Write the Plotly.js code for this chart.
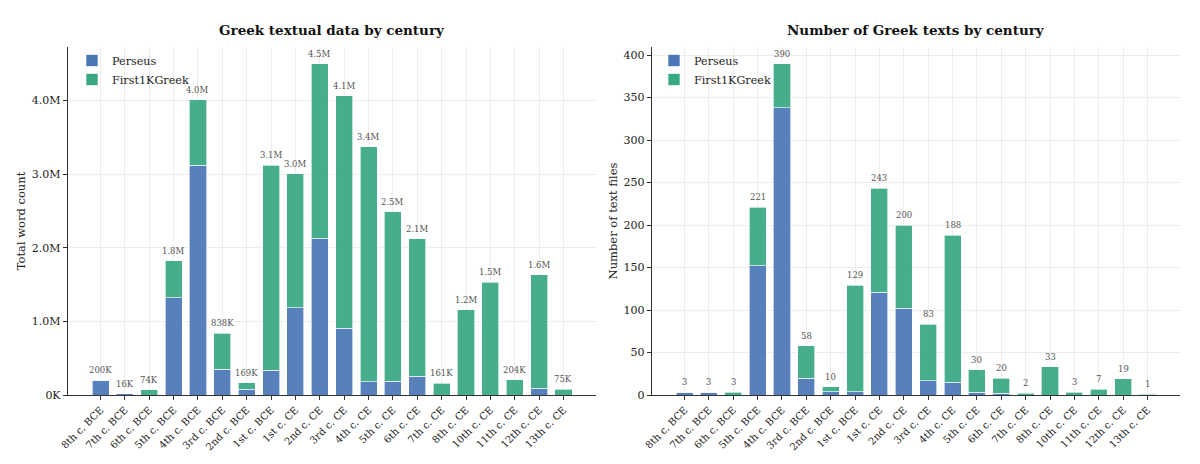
<!DOCTYPE html>
<html>
<head>
<meta charset="utf-8">
<script src="https://cdn.plot.ly/plotly-3.0.1.min.js"></script>
<style>html,body{margin:0;padding:0;background:#fff;}#chart{width:1200px;height:464px;}</style>
</head>
<body>
<div id="chart"></div>
<script>
var centuries = ["8th c. BCE","7th c. BCE","6th c. BCE","5th c. BCE","4th c. BCE","3rd c. BCE","2nd c. BCE","1st c. BCE","1st c. CE","2nd c. CE","3rd c. CE","4th c. CE","5th c. CE","6th c. CE","7th c. CE","8th c. CE","10th c. CE","11th c. CE","12th c. CE","13th c. CE"];
var wordsPerseus = [200000,16000,0,1320000,3120000,350000,77000,335000,1185000,2130000,905000,180000,190000,258000,0,0,0,0,90000,0];
var wordsFirst1K = [0,0,74000,500000,890000,488000,92000,2785000,1820000,2370000,3155000,3190000,2300000,1862000,161000,1160000,1530000,204000,1540000,75000];
var textsPerseus = [3,3,0,152,338,20,4,4,121,102,17,15,3,2,0,0,0,0,0,0];
var textsFirst1K = [0,0,3,69,52,38,6,125,122,98,66,173,27,18,2,33,3,7,19,1];
var wordTickVals = [0,1000000,2000000,3000000,4000000];
var wordTickText = ["0K","1.0M","2.0M","3.0M","4.0M"];
var textTickVals = [0,50,100,150,200,250,300,350,400];

var BLUE = "#4a76b6", GREEN = "#38a884";
var FONT = "DejaVu Serif";

function fmtWords(v){ return v >= 1e6 ? (v/1e6).toFixed(1) + "M" : Math.round(v/1000) + "K"; }

var wordTotals = wordsPerseus.map(function(v,i){ return v + wordsFirst1K[i]; });
var textTotals = textsPerseus.map(function(v,i){ return v + textsFirst1K[i]; });

function barTrace(xa, ya, y, name, color, legend){
  return {type:"bar", x:centuries, y:y, name:name, xaxis:xa, yaxis:ya,
    marker:{color:color, opacity:0.92, line:{color:"rgba(255,255,255,0.8)", width:0.8}},
    width:0.7, legend:legend, showlegend:true, hoverinfo:"skip"};
}

var data = [
  barTrace("x","y",wordsPerseus,"Perseus",BLUE,"legend2"),
  barTrace("x","y",wordsFirst1K,"First1KGreek",GREEN,"legend2"),
  barTrace("x2","y2",textsPerseus,"Perseus",BLUE,"legend3"),
  barTrace("x2","y2",textsFirst1K,"First1KGreek",GREEN,"legend3")
];

var ann = [];
centuries.forEach(function(c,i){
  ann.push({xref:"x", yref:"y", x:c, y:wordTotals[i], text:fmtWords(wordTotals[i]), showarrow:false,
    yanchor:"bottom", yshift:3, font:{family:FONT, size:8.5, color:"#555"}});
  ann.push({xref:"x2", yref:"y2", x:c, y:textTotals[i], text:String(textTotals[i]), showarrow:false,
    yanchor:"bottom", yshift:3, font:{family:FONT, size:8.5, color:"#555"}});
});
ann.push({xref:"paper", yref:"paper", x:0.2767, y:1-30/464, text:"<b>Greek textual data by century</b>", showarrow:false,
  xanchor:"center", yanchor:"middle", font:{family:FONT, size:13.5, color:"#111"}});
ann.push({xref:"paper", yref:"paper", x:0.7633, y:1-30/464, text:"<b>Number of Greek texts by century</b>", showarrow:false,
  xanchor:"center", yanchor:"middle", font:{family:FONT, size:13.5, color:"#111"}});

function xAxis(dom, anchor){
  return {domain:dom, anchor:anchor, type:"category", range:[-1.335,20.335], tickangle:-45,
    tickfont:{family:FONT, size:10, color:"#222"}, showgrid:true, gridcolor:"#e8e8e8", gridwidth:0.8,
    showline:true, linecolor:"#333", linewidth:1.2, ticks:"outside", ticklen:4, tickcolor:"#333", tickwidth:1,
    zeroline:false, fixedrange:true};
}
function yAxis(anchor, range, tv, tt, title){
  var a = {domain:[69/464, 417/464], anchor:anchor, range:range, tickvals:tv,
    tickfont:{family:FONT, size:11, color:"#222"}, showgrid:true, gridcolor:"#e8e8e8", gridwidth:0.8,
    showline:true, linecolor:"#333", linewidth:1.2, ticks:"outside", ticklen:4, tickcolor:"#333", tickwidth:1,
    zeroline:false, fixedrange:true, title:{text:title, font:{family:FONT, size:11.5, color:"#222"}, standoff:3}};
  if (tt) a.ticktext = tt;
  return a;
}

function legendCfg(xpx, ypx){
  return {x:xpx/1200, y:1-ypx/464, xref:"paper", yref:"paper", xanchor:"left", yanchor:"top",
    bgcolor:"rgba(255,255,255,0)", font:{family:FONT, size:11.2, color:"#222"},
    tracegroupgap:0, traceorder:"normal", orientation:"v"};
}

var layout = {
  width:1200, height:464, margin:{l:0,r:0,t:0,b:0}, paper_bgcolor:"#fff", plot_bgcolor:"#fff",
  barmode:"stack", showlegend:true,
  xaxis: xAxis([68/1200, 596/1200], "y"),
  yaxis: yAxis("x", [0, 4725000], wordTickVals, wordTickText, "Total word count"),
  xaxis2: xAxis([652/1200, 1180/1200], "y2"),
  yaxis2: yAxis("x2", [0, 409.5], textTickVals, null, "Number of text files"),
  legend2: legendCfg(72, 46),
  legend3: legendCfg(654, 46),
  annotations: ann
};

Plotly.newPlot("chart", data, layout, {displayModeBar:false, staticPlot:true});
</script>
</body>
</html>
